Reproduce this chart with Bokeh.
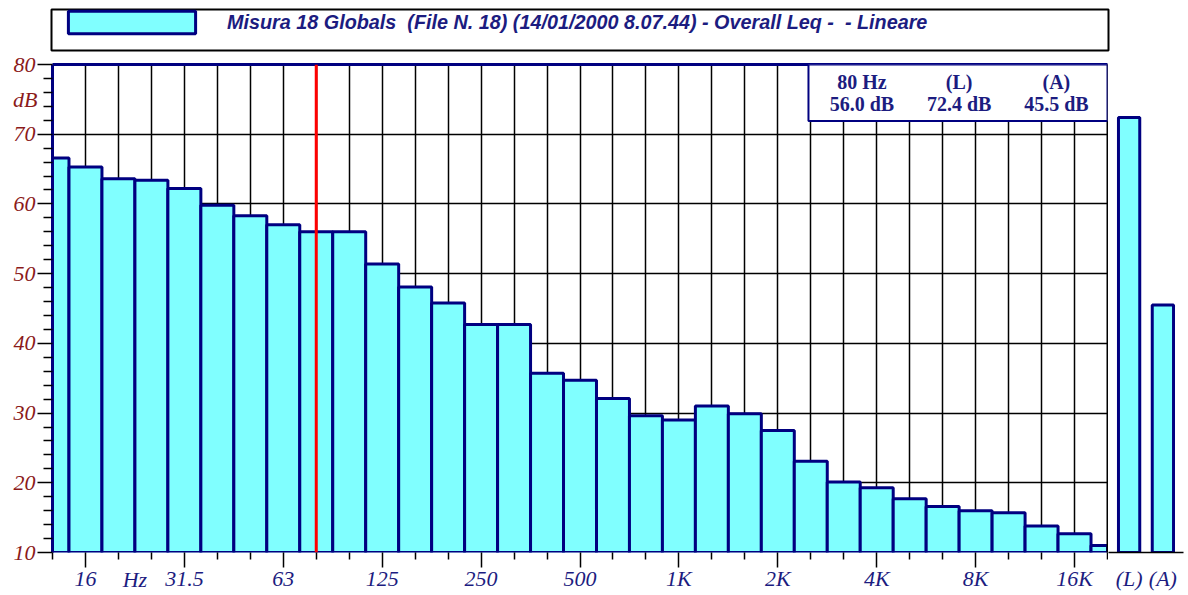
from bokeh.plotting import figure
from bokeh.models import (Range1d, FactorRange, FixedTicker, LinearAxis, CategoricalAxis,
                          Span, Label, BoxAnnotation, Legend, LegendItem, Grid)
from bokeh.layouts import column, row
from bokeh.embed import file_html
from bokeh.resources import INLINE

# ---------------- data ----------------
bands = ["12.5", "16", "20", "25", "31.5", "40", "50", "63", "80", "100", "125", "160",
         "200", "250", "315", "400", "500", "630", "800", "1K", "1.25K", "1.6K", "2K",
         "2.5K", "3.15K", "4K", "5K", "6.3K", "8K", "10K", "12.5K", "16K", "20K"]
levels = [66.6, 65.3, 63.6, 63.4, 62.2, 59.8, 58.3, 57.0, 56.0, 56.0, 51.4, 48.1,
          45.8, 42.7, 42.7, 35.7, 34.7, 32.1, 29.6, 29.0, 31.0, 29.9, 27.5,
          23.1, 20.1, 19.3, 17.7, 16.6, 16.0, 15.7, 13.8, 12.7, 11.0]
labeled_bands = ["16", "31.5", "63", "125", "250", "500", "1K", "2K", "4K", "8K", "16K"]
x_unit, x_unit_after = "Hz", "20"      # unit label sits between the 20 and 25 Hz bands
marker_band = "80"
overall_names = ["(L)", "(A)"]
overall_levels = [72.4, 45.5]
y_ticks = [10, 20, 30, 40, 50, 60, 70, 80]
y_unit, y_unit_at = "dB", 75
title_text = "Misura 18 Globals  (File N. 18) (14/01/2000 8.07.44) - Overall Leq -  - Lineare"

# ---------------- styles ----------------
CYAN = "#80ffff"
NAVY = "#000080"
TXT_NAVY = "#1c1c80"
DARK_RED = "#8b1a1a"
SERIF = "Liberation Serif"
LBL_SIZE = "22px"

idx = list(range(len(bands)))
yr = Range1d(10, 80)

# ---------------- top legend box ----------------
top = figure(width=1188, height=52, x_range=Range1d(0, 1), y_range=Range1d(0, 1),
             x_axis_type=None, y_axis_type=None, output_backend="svg",
             toolbar_location=None, min_border_left=51, min_border_right=80,
             min_border_top=9, min_border_bottom=2)
top.outline_line_color = "black"
top.outline_line_width = 2
nan = float("nan")
proxy = top.quad(left=[nan], right=[nan], top=[nan], bottom=[nan], fill_color=CYAN,
                 line_color=NAVY, line_width=3)
leg = Legend(items=[LegendItem(label=title_text, renderers=[proxy])],
             location=(1, 14), orientation="horizontal", padding=0, margin=0, spacing=0,
             glyph_width=159, glyph_height=28, label_height=28, label_standoff=16,
             border_line_color=None, background_fill_alpha=0,
             label_text_font="Liberation Sans", label_text_font_style="bold italic",
             label_text_font_size="19.8px", label_text_color=TXT_NAVY)
top.add_layout(leg)

# ---------------- main spectrum ----------------
p = figure(width=1108, height=543, x_range=Range1d(0, len(bands) - 1), y_range=yr,
           x_axis_type=None, y_axis_type=None, output_backend="svg",
           toolbar_location=None, min_border_left=52, min_border_right=1,
           min_border_top=12, min_border_bottom=43)
p.outline_line_color = None


def style_labels(ax, color):
    ax.major_label_text_font = SERIF
    ax.major_label_text_font_style = "italic"
    ax.major_label_text_font_size = LBL_SIZE
    ax.major_label_text_color = color


def no_ticks(ax):
    ax.axis_line_color = None
    ax.major_tick_line_color = None
    ax.minor_tick_line_color = None
    ax.major_tick_out = 0
    ax.major_tick_in = 0
    ax.minor_tick_out = 0
    ax.minor_tick_in = 0


major_x = [bands.index(b) for b in labeled_bands]
minor_x = [i for i in idx if i not in major_x]

# x axis: ticks + labels
xaxis = LinearAxis(ticker=FixedTicker(ticks=major_x, minor_ticks=minor_x),
                   major_label_overrides={bands.index(b): b for b in labeled_bands})
xaxis.axis_line_color = None
xaxis.major_tick_out = 15
xaxis.major_tick_in = 0
xaxis.minor_tick_out = 7
xaxis.minor_tick_in = 0
xaxis.major_tick_line_width = 1.5
xaxis.minor_tick_line_width = 1.5
xaxis.major_tick_line_color = "black"
xaxis.minor_tick_line_color = "black"
xaxis.major_label_standoff = -2
style_labels(xaxis, TXT_NAVY)
p.add_layout(xaxis, "below")

# x unit ("Hz") on a tickless axis pulled back up to the label row
unit_x = bands.index(x_unit_after) + 0.5
xunit_axis = LinearAxis(ticker=FixedTicker(ticks=[unit_x], minor_ticks=[]),
                        major_label_overrides={unit_x: x_unit})
no_ticks(xunit_axis)
xunit_axis.major_label_standoff = -27
style_labels(xunit_axis, TXT_NAVY)
p.add_layout(xunit_axis, "below")

# y axis: line, ticks + labels
minor_y = [v for v in range(10, 81, 2) if v not in y_ticks]
yaxis = LinearAxis(ticker=FixedTicker(ticks=y_ticks, minor_ticks=minor_y))
yaxis.axis_line_color = NAVY
yaxis.axis_line_width = 3
yaxis.major_tick_out = 15
yaxis.major_tick_in = 0
yaxis.minor_tick_out = 9
yaxis.minor_tick_in = 0
yaxis.major_tick_line_width = 1.5
yaxis.minor_tick_line_width = 1.5
yaxis.major_tick_line_color = "black"
yaxis.minor_tick_line_color = "black"
yaxis.major_label_standoff = 2
style_labels(yaxis, DARK_RED)
p.add_layout(yaxis, "left")

# y unit ("dB") on a tickless axis pulled back to the label column
yunit_axis = LinearAxis(ticker=FixedTicker(ticks=[y_unit_at], minor_ticks=[]),
                        major_label_overrides={y_unit_at: y_unit})
no_ticks(yunit_axis)
yunit_axis.major_label_standoff = -27
style_labels(yunit_axis, DARK_RED)
p.add_layout(yunit_axis, "left")

top_axis = LinearAxis(ticker=FixedTicker(ticks=[]))
top_axis.axis_line_color = NAVY
top_axis.axis_line_width = 3
p.add_layout(top_axis, "above")
right_axis = LinearAxis(ticker=FixedTicker(ticks=[]))
right_axis.axis_line_color = "black"
right_axis.axis_line_width = 2
p.add_layout(right_axis, "right")

vgrid = Grid(dimension=0, ticker=FixedTicker(ticks=idx[1:-1]),
             grid_line_color="black", grid_line_width=1.5)
hgrid = Grid(dimension=1, ticker=FixedTicker(ticks=y_ticks[1:-1]),
             grid_line_color="black", grid_line_width=1.5)
p.add_layout(vgrid)
p.add_layout(hgrid)

p.vbar(x=idx, top=levels, bottom=yr.start - 1, width=1.0,
       fill_color=CYAN, line_color=NAVY, line_width=3)

mi = bands.index(marker_band)
p.add_layout(Span(location=mi, dimension="height", line_color="red", line_width=3))

# info box
p.add_layout(BoxAnnotation(left=22.93, right=len(bands) - 1, bottom=71.9, top=80,
                           fill_color="white", fill_alpha=1.0,
                           line_color=NAVY, line_width=2, line_alpha=1.0))
info_cols = [24.55, 27.5, 30.45]
info_head = [f"{marker_band} Hz"] + overall_names
info_vals = [levels[mi]] + overall_levels
for cx, h, v in zip(info_cols, info_head, info_vals):
    p.add_layout(Label(x=cx, y=77.55, text=h, text_align="center", text_baseline="middle",
                       text_font=SERIF, text_font_style="bold", text_font_size="20px",
                       text_color=TXT_NAVY))
    p.add_layout(Label(x=cx, y=74.4, text=f"{v:.1f} dB", text_align="center",
                       text_baseline="middle", text_font=SERIF, text_font_style="bold",
                       text_font_size="20px", text_color=TXT_NAVY))

# ---------------- overall (L)(A) ----------------
s = figure(width=80, height=543,
           x_range=FactorRange(factors=overall_names, range_padding=0.11,
                               range_padding_units="absolute"),
           y_range=yr, x_axis_type=None, y_axis_type=None, output_backend="svg",
           toolbar_location=None, min_border_left=0, min_border_right=5,
           min_border_top=12, min_border_bottom=43)
s.outline_line_color = None
s.vbar(x=overall_names, top=overall_levels, bottom=yr.start, width=0.63,
       fill_color=CYAN, line_color=NAVY, line_width=3)
saxis = CategoricalAxis()
saxis.axis_line_color = "black"
saxis.axis_line_width = 1.5
saxis.major_tick_line_color = None
saxis.major_tick_out = 15
saxis.major_tick_in = 0
saxis.major_label_standoff = -2
style_labels(saxis, TXT_NAVY)
s.add_layout(saxis, "below")

layout = column(top, row(p, s))
open("out.html", "w").write(file_html(layout, INLINE))
